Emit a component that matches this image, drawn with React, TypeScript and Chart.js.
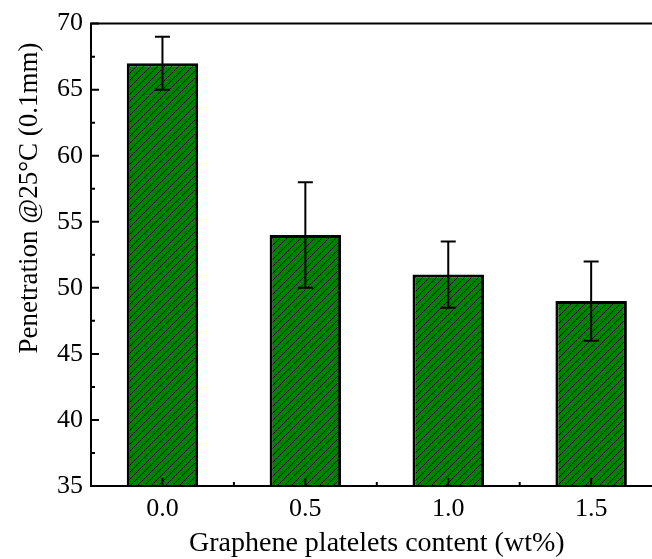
import React, { useEffect, useRef } from 'react';
import { Chart, registerables } from 'chart.js';

Chart.register(...registerables);

const categories = ['0.0', '0.5', '1.0', '1.5'];
const penetration = [67, 54, 51, 49];
const errors = [2, 4, 2.5, 3];
const yMin = 35;
const yMax = 70;
const yStep = 5;
const xTitle = 'Graphene platelets content (wt%)';
const yTitle = 'Penetration @25°C (0.1mm)';

const FONT = '"Liberation Serif", "Times New Roman", serif';
const CANVAS_W = 700;
const CANVAS_H = 559;

function makeHatch(): CanvasPattern | string {
  const s = 7;
  const c = document.createElement('canvas');
  c.width = s;
  c.height = s;
  const g = c.getContext('2d');
  if (!g) return '#008000';
  g.fillStyle = '#008000';
  g.fillRect(0, 0, s, s);
  g.strokeStyle = '#000';
  g.lineWidth = 1;
  g.beginPath();
  g.moveTo(0, s);
  g.lineTo(s, 0);
  g.moveTo(-1, 1);
  g.lineTo(1, -1);
  g.moveTo(s - 1, s + 1);
  g.lineTo(s + 1, s - 1);
  g.stroke();
  const p = g.createPattern(c, 'repeat');
  return p || '#008000';
}

const framePlugin = {
  id: 'originFrame',
  afterDatasetsDraw(chart: any) {
    const ctx = chart.ctx;
    const xs = chart.scales.x;
    const ys = chart.scales.y;
    ctx.save();
    ctx.strokeStyle = '#000';
    ctx.lineWidth = 2;
    penetration.forEach((v, i) => {
      const px = xs.getPixelForValue(i);
      const top = ys.getPixelForValue(v + errors[i]);
      const bot = ys.getPixelForValue(v - errors[i]);
      ctx.beginPath();
      ctx.moveTo(px, top);
      ctx.lineTo(px, bot);
      ctx.moveTo(px - 7.5, top);
      ctx.lineTo(px + 7.5, top);
      ctx.moveTo(px - 7.5, bot);
      ctx.lineTo(px + 7.5, bot);
      ctx.stroke();
    });
    ctx.restore();
  },
  afterDraw(chart: any) {
    const ctx = chart.ctx;
    const xs = chart.scales.x;
    const ys = chart.scales.y;
    const { left, right, top, bottom } = chart.chartArea;
    ctx.save();
    ctx.strokeStyle = '#000';
    ctx.lineWidth = 2;
    ctx.lineCap = 'square';
    ctx.beginPath();
    ctx.rect(left, top, right - left, bottom - top);
    ctx.stroke();
    ctx.lineCap = 'butt';
    // y ticks (inward)
    const ticks = ys.ticks.map((t: any) => t.value);
    ctx.beginPath();
    ticks.forEach((v: number, i: number) => {
      const py = ys.getPixelForValue(v);
      ctx.moveTo(left, py);
      ctx.lineTo(left + 8, py);
      if (i < ticks.length - 1) {
        const pm = ys.getPixelForValue((v + ticks[i + 1]) / 2);
        ctx.moveTo(left, pm);
        ctx.lineTo(left + 4, pm);
      }
    });
    // x ticks (inward)
    categories.forEach((_, i) => {
      const px = xs.getPixelForValue(i);
      ctx.moveTo(px, bottom);
      ctx.lineTo(px, bottom - 8);
      if (i < categories.length - 1) {
        const pm = xs.getPixelForValue(i + 0.5);
        ctx.moveTo(pm, bottom);
        ctx.lineTo(pm, bottom - 4);
      }
    });
    ctx.stroke();
    // titles
    ctx.fillStyle = '#000';
    ctx.font = '28px ' + FONT;
    ctx.textAlign = 'center';
    ctx.textBaseline = 'alphabetic';
    ctx.fillText(xTitle, (left + right) / 2, 551);
    ctx.font = '27px ' + FONT;
    ctx.translate(37, 198);
    ctx.rotate(-Math.PI / 2);
    ctx.fillText(yTitle, 0, 0);
    ctx.restore();
  },
};

export default function App() {
  const ref = useRef<HTMLCanvasElement | null>(null);
  useEffect(() => {
    if (!ref.current) return;
    const hatch = makeHatch();
    const chart = new Chart(ref.current, {
      type: 'bar',
      data: {
        labels: categories,
        datasets: [
          {
            data: penetration,
            base: yMin,
            backgroundColor: hatch as any,
            borderColor: '#000',
            borderWidth: 3,
            borderSkipped: 'start',
            barPercentage: 0.5,
            categoryPercentage: 1,
          } as any,
        ],
      },
      options: {
        animation: false,
        responsive: false,
        devicePixelRatio: 1,
        layout: { padding: { left: 0, right: CANVAS_W - 662.6, top: 21.5, bottom: 0 } },
        plugins: { legend: { display: false }, tooltip: { enabled: false } },
        scales: {
          x: {
            type: 'category',
            grid: { display: false, drawTicks: false },
            border: { display: false },
            ticks: { color: '#000', font: { family: FONT, size: 26 }, padding: 8 },
            afterFit: (s: any) => {
              s.height = CANVAS_H - 486;
            },
          },
          y: {
            min: yMin,
            max: yMax,
            grid: { display: false, drawTicks: false },
            border: { display: false },
            ticks: { stepSize: yStep, color: '#000', font: { family: FONT, size: 26 }, padding: 8 },
            afterFit: (s: any) => {
              s.width = 91;
            },
          },
        },
      },
      plugins: [framePlugin],
    });
    return () => chart.destroy();
  }, []);
  return (
    <div style={{ position: 'fixed', left: 0, top: 0, width: 652, height: 559, overflow: 'hidden', background: '#fff' }}>
      <canvas ref={ref} width={CANVAS_W} height={CANVAS_H} style={{ display: 'block', width: CANVAS_W, height: CANVAS_H }} />
    </div>
  );
}
